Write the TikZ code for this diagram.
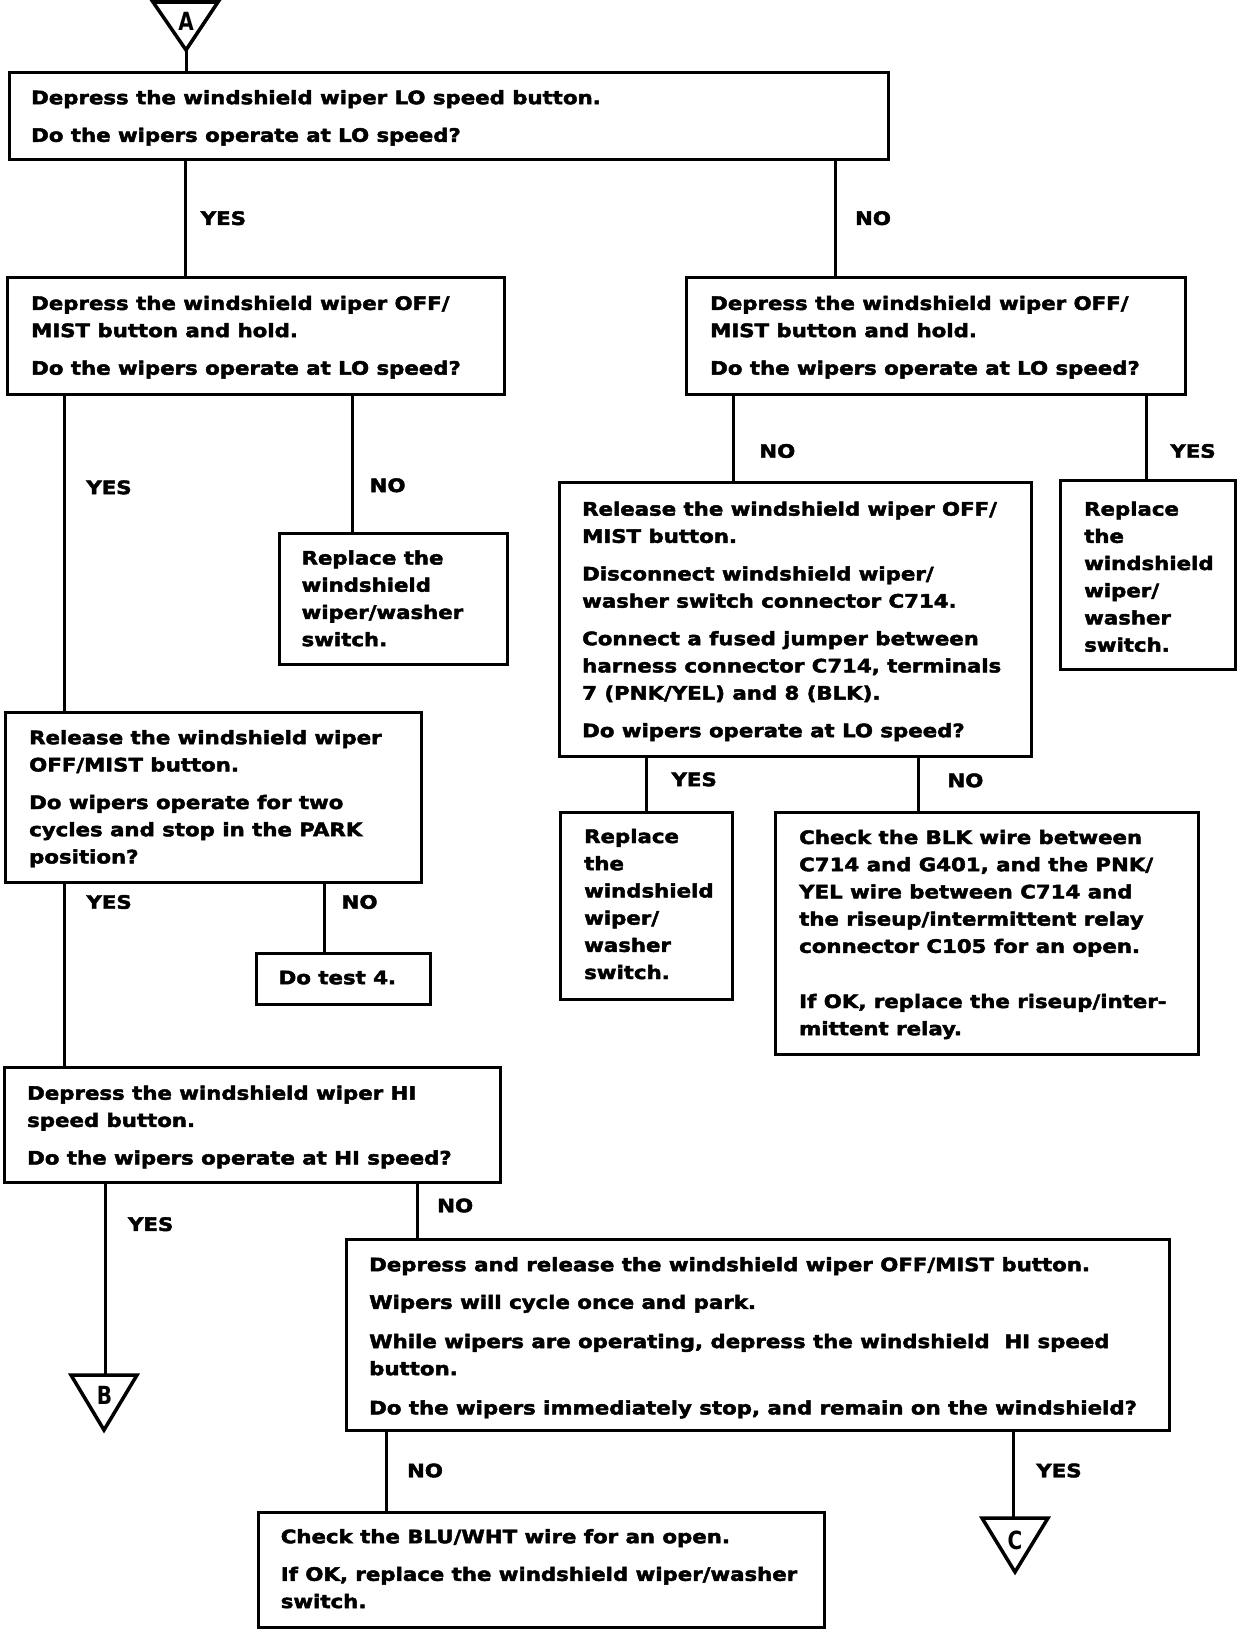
\documentclass[tikz,border=0pt]{standalone}
\usepackage{fontspec}
\newfontfamily\boxfont[FakeStretch=1.15,FakeBold=2.5]{DejaVu Sans Bold}
\newfontfamily\trifont[FakeStretch=0.8]{DejaVu Sans Bold}
\newcommand\fstrut{\rule{0pt}{20pt}}
\newcommand\pg{\\[10.4pt]}
\begin{document}
\begin{tikzpicture}[x=1pt,y=-1pt,
  box/.style={draw, line width=3pt, inner sep=0pt, anchor=north west},
  txt/.style={anchor=north west, inner sep=0pt, align=left, font=\boxfont\fontsize{18.5}{27.2}\selectfont},
  lbl/.style={inner sep=0pt, font=\boxfont\fontsize{18.5}{27.2}\selectfont},
  tlbl/.style={inner sep=0pt, font=\trifont\fontsize{25}{30}\selectfont},
  conn/.style={line width=3pt},
  tri/.style={line width=3.5pt, line join=miter}]
\useasboundingbox (0,0) rectangle (1248,1630);

% boxes
\node[box, minimum width=879pt, minimum height=87pt] (b1) at (8,71) {};
\node[box, minimum width=497pt, minimum height=117pt] (b2) at (6,276) {};
\node[box, minimum width=499pt, minimum height=117pt] (b3) at (685,276) {};
\node[box, minimum width=228.5pt, minimum height=131pt] (b4) at (277.5,532) {};
\node[box, minimum width=416pt, minimum height=170pt] (b5) at (4,711) {};
\node[box, minimum width=472pt, minimum height=273.5pt] (b6) at (558,481) {};
\node[box, minimum width=174.5pt, minimum height=189pt] (b7) at (1059,479) {};
\node[box, minimum width=171.5pt, minimum height=187pt] (b8) at (559,810.6) {};
\node[box, minimum width=423pt, minimum height=242pt] (b9) at (774,810.6) {};
\node[box, minimum width=174.6pt, minimum height=51pt] (b10) at (254.6,952) {};
\node[box, minimum width=496pt, minimum height=115.4pt] (b11) at (3,1066) {};
\node[box, minimum width=823pt, minimum height=191.2pt] (b12) at (345,1237.7) {};
\node[box, minimum width=566.3pt, minimum height=115.3pt] (b13) at (256.7,1511) {};

% texts
\node[txt] (t1) at (31,84) {\fstrut Depress the windshield wiper LO speed button.\pg Do the wipers operate at LO speed?};
\node[txt] (t2) at (31,289.7) {\fstrut Depress the windshield wiper OFF/\\MIST button and hold.\pg Do the wipers operate at LO speed?};
\node[txt] (t3) at (710,289.7) {\fstrut Depress the windshield wiper OFF/\\MIST button and hold.\pg Do the wipers operate at LO speed?};
\node[txt] (t4) at (301.4,544.3) {\fstrut Replace the\\windshield\\wiper/washer\\switch.};
\node[txt] (t5) at (29,724) {\fstrut Release the windshield wiper\\OFF/MIST button.\pg Do wipers operate for two\\cycles and stop in the PARK\\position?};
\node[txt] (t6) at (582,495.4) {\fstrut Release the windshield wiper OFF/\\MIST button.\pg Disconnect windshield wiper/\\washer switch connector C714.\pg Connect a fused jumper between\\harness connector C714, terminals\\7 (PNK/YEL) and 8 (BLK).\pg Do wipers operate at LO speed?};
\node[txt] (t7) at (1084,495.4) {\fstrut Replace\\the\\windshield\\wiper/\\washer\\switch.};
\node[txt] (t8) at (584,822.8) {\fstrut Replace\\the\\windshield\\wiper/\\washer\\switch.};
\node[txt] (t9) at (799,823.8) {\fstrut Check the BLK wire between\\C714 and G401, and the PNK/\\YEL wire between C714 and\\the riseup/intermittent relay\\connector C105 for an open.\\[28pt]If OK, replace the riseup/inter-\\mittent relay.};
\node[txt] (t10) at (278.5,964) {\fstrut Do test 4.};
\node[txt] (t11) at (27,1079.5) {\fstrut Depress the windshield wiper HI\\speed button.\pg Do the wipers operate at HI speed?};
\node[txt] (t12) at (369,1251) {\fstrut Depress and release the windshield wiper OFF/MIST button.\pg Wipers will cycle once and park.\\[12pt]While wipers are operating, depress the windshield\ \ HI speed\\button.\\[12pt]Do the wipers immediately stop, and remain on the windshield?};
\node[txt] (t13) at (280.6,1523) {\fstrut Check the BLU/WHT wire for an open.\pg If OK, replace the windshield wiper/washer\\switch.};

% off-page connector triangles
\node[tlbl] (la) at (186,21) {A};
\draw[tri] ([shift={(-33,-19)}]la.center) -- ([shift={(32,-19)}]la.center) -- ([shift={(0,29)}]la.center) -- cycle;
\coordinate (aA) at ([shift={(0,29)}]la.center);
\node[tlbl] (lb) at (104.5,1395) {B};
\draw[tri] ([shift={(-33.5,-20)}]lb.center) -- ([shift={(32.5,-20)}]lb.center) -- ([shift={(-0.5,35)}]lb.center) -- cycle;
\coordinate (bTop) at ([shift={(0.5,-20)}]lb.center);
\node[tlbl] (lc) at (1015,1540) {C};
\draw[tri] ([shift={(-33,-22)}]lc.center) -- ([shift={(33,-22)}]lc.center) -- ([shift={(0,32)}]lc.center) -- cycle;
\coordinate (cTop) at ([shift={(-2,-22)}]lc.center);

% connector x positions
\coordinate (k12) at (185,0);
\coordinate (k13) at (835.5,0);
\coordinate (k25) at (64.4,0);
\coordinate (k24) at (352.3,0);
\coordinate (k36) at (733.7,0);
\coordinate (k37) at (1146.2,0);
\coordinate (k68) at (646.4,0);
\coordinate (k69) at (918.7,0);
\coordinate (k511) at (64.4,0);
\coordinate (k510) at (324.2,0);
\coordinate (k1112) at (417.8,0);
\coordinate (k1213) at (386.6,0);

% connectors
\draw[conn] (aA) -- (aA |- b1.north);
\draw[conn] (b1.south -| k12) -- (b2.north -| k12);
\draw[conn] (b1.south -| k13) -- (b3.north -| k13);
\draw[conn] (b2.south -| k25) -- (b5.north -| k25);
\draw[conn] (b2.south -| k24) -- (b4.north -| k24);
\draw[conn] (b3.south -| k36) -- (b6.north -| k36);
\draw[conn] (b3.south -| k37) -- (b7.north -| k37);
\draw[conn] (b6.south -| k68) -- (b8.north -| k68);
\draw[conn] (b6.south -| k69) -- (b9.north -| k69);
\draw[conn] (b5.south -| k511) -- (b11.north -| k511);
\draw[conn] (b5.south -| k510) -- (b10.north -| k510);
\draw[conn] (b11.south -| bTop) -- (bTop);
\draw[conn] (b11.south -| k1112) -- (b12.north -| k1112);
\draw[conn] (b12.south -| k1213) -- (b13.north -| k1213);
\draw[conn] (b12.south -| cTop) -- (cTop);

% branch labels
\node[lbl] (y1) at (223.4,218.2) {YES};
\node[lbl] (n1) at (873,218.2) {NO};
\node[lbl] (y2) at (109,487.4) {YES};
\node[lbl] (n2) at (387.6,485.3) {NO};
\node[lbl] (n3) at (777.3,451) {NO};
\node[lbl] (y3) at (1193,451) {YES};
\node[lbl] (y4) at (694.2,779.4) {YES};
\node[lbl] (n4) at (965.4,780.4) {NO};
\node[lbl] (y5) at (109.1,902) {YES};
\node[lbl] (n5) at (359.6,902) {NO};
\node[lbl] (y6) at (150.7,1224.2) {YES};
\node[lbl] (n6) at (455.2,1205.5) {NO};
\node[lbl] (n7) at (425,1470.5) {NO};
\node[lbl] (y7) at (1059,1470.5) {YES};
\end{tikzpicture}
\end{document}
